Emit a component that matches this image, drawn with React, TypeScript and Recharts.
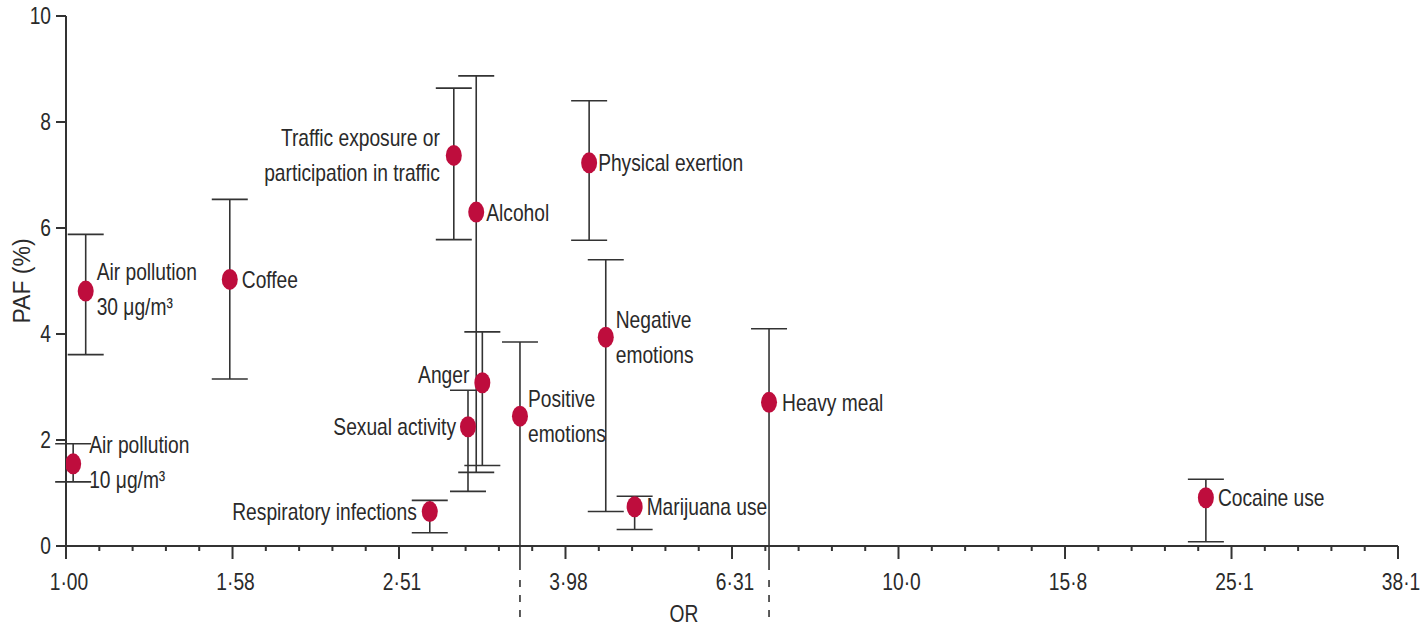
import React from "react";
import {
  ScatterChart,
  Scatter,
  XAxis,
  YAxis,
  ErrorBar,
  ReferenceLine,
  Label,
} from "recharts";

// ---- data ----
const factors = [
  "Air pollution 10 μg/m³",
  "Air pollution 30 μg/m³",
  "Coffee",
  "Respiratory infections",
  "Traffic exposure or participation in traffic",
  "Sexual activity",
  "Alcohol",
  "Anger",
  "Positive emotions",
  "Physical exertion",
  "Negative emotions",
  "Marijuana use",
  "Heavy meal",
  "Cocaine use",
];
const labelLines = [
  ["Air pollution", "10 μg/m³"],
  ["Air pollution", "30 μg/m³"],
  ["Coffee"],
  ["Respiratory infections"],
  ["Traffic exposure or", "participation in traffic"],
  ["Sexual activity"],
  ["Alcohol"],
  ["Anger"],
  ["Positive", "emotions"],
  ["Physical exertion"],
  ["Negative", "emotions"],
  ["Marijuana use"],
  ["Heavy meal"],
  ["Cocaine use"],
];
const orValues = [1.02, 1.056, 1.573, 2.735, 2.923, 3.04, 3.11, 3.163, 3.51, 4.25, 4.45, 4.82, 6.99, 23.4];
const pafValues = [1.55, 4.81, 5.03, 0.65, 7.37, 2.25, 6.3, 3.08, 2.45, 7.23, 3.94, 0.74, 2.71, 0.91];
const ciLow = [1.21, 3.61, 3.15, 0.25, 5.78, 1.03, 1.39, 1.52, -1.4, 5.77, 0.65, 0.31, -1.4, 0.08];
const ciHigh = [1.93, 5.88, 6.54, 0.86, 8.64, 2.94, 8.87, 4.04, 3.85, 8.4, 5.4, 0.94, 4.1, 1.26];

const xMajorTicks = [1, 1.585, 2.512, 3.981, 6.31, 10, 15.85, 25.12, 39.81];
const xMajorLabels = ["1·00", "1·58", "2·51", "3·98", "6·31", "10·0", "15·8", "25·1", "38·1"];
const yTicks = [0, 2, 4, 6, 8, 10];

// ---- style config ----
const labelSide = ["right", "right", "right", "left", "left", "left", "right", "left", "right", "right", "right", "right", "right", "right"];
const labelDx = [16, 11, 12, 13, 14, 12, 10, 13, 8, 9, 10, 12, 13, 12];
const labelDy = [-2, -2, 0, 0, 0, 0, 0, -8, 0, 0, 0, 0, 0, 0];

const FONT = "'Liberation Sans', Arial, sans-serif";
const FS = 24;
const SQUEEZE = 0.8;
const TEXT = "#2a2a2a";
const AXIS = "#333333";
const DOT = "#BE0D3D";

// minor ticks: 4 between each pair of major ticks on the log axis
const allXTicks: number[] = [];
for (let i = 0; i < xMajorTicks.length; i++) {
  allXTicks.push(xMajorTicks[i]);
  if (i < xMajorTicks.length - 1) {
    const a = Math.log10(xMajorTicks[i]);
    const b = Math.log10(xMajorTicks[i + 1]);
    for (let k = 1; k < 5; k++) allXTicks.push(Math.pow(10, a + ((b - a) * k) / 5));
  }
}

const data = factors.map((name, i) => ({
  name,
  or: orValues[i],
  paf: pafValues[i],
  err: [pafValues[i] - Math.max(ciLow[i], 0), ciHigh[i] - pafValues[i]],
  lines: labelLines[i],
  side: labelSide[i],
  dx: labelDx[i],
  dy: labelDy[i],
}));

const extended = orValues
  .map((or, i) => ({ or, low: ciLow[i] }))
  .filter((e) => e.low < 0);

const NarrowText = ({ x, y, anchor, children, size = FS }: any) => (
  <text
    transform={`translate(${x},${y}) scale(${SQUEEZE},1)`}
    x={0}
    y={0}
    dy="0.35em"
    textAnchor={anchor}
    fontFamily={FONT}
    fontSize={size}
    fill={TEXT}
  >
    {children}
  </text>
);

const XTick = (props: any) => {
  const { x, y, payload } = props;
  const idx = xMajorTicks.findIndex((t) => Math.abs(t - payload.value) < 1e-6);
  const major = idx >= 0;
  return (
    <g>
      <line x1={x} y1={y} x2={x} y2={y + (major ? 13 : 5)} stroke={AXIS} strokeWidth={2} />
      {major && (
        <NarrowText x={x + 3} y={y + 36} anchor="middle">
          {xMajorLabels[idx]}
        </NarrowText>
      )}
    </g>
  );
};

const YTick = (props: any) => {
  const { x, y, payload } = props;
  return (
    <NarrowText x={x} y={y} anchor="end">
      {String(payload.value)}
    </NarrowText>
  );
};

const PointShape = (props: any) => {
  const { cx, cy, payload } = props;
  const lines: string[] = payload.lines;
  const right = payload.side === "right";
  const tx = right ? cx + payload.dx : cx - payload.dx;
  const spacing = 35;
  const startY = cy + payload.dy - ((lines.length - 1) * spacing) / 2;
  return (
    <g>
      <ellipse cx={cx} cy={cy} rx={8} ry={10.5} fill={DOT} />
      {lines.map((l, i) => (
        <NarrowText key={i} x={tx} y={startY + i * spacing} anchor={right ? "start" : "end"}>
          {l}
        </NarrowText>
      ))}
    </g>
  );
};

export default function App() {
  return (
    <div style={{ position: "absolute", left: 0, top: 0, background: "#fff" }}>
      <ScatterChart width={1425} height={629} margin={{ top: 16, right: 27, bottom: 0, left: 0 }}>
        <XAxis
          type="number"
          dataKey="or"
          scale="log"
          domain={[1, 39.81]}
          ticks={allXTicks}
          interval={0}
          tick={<XTick />}
          tickLine={false}
          tickSize={0}
          tickMargin={0}
          axisLine={{ stroke: AXIS, strokeWidth: 2 }}
          height={83}
          allowDataOverflow
        >
          <Label
            content={(p: any) => {
              const vb = p.viewBox || {};
              const cx = (vb.x || 0) + (vb.width || 0) / 2 - 48;
              const cy = (vb.y || 0) + (vb.height || 0) - 15;
              return (
                <NarrowText x={cx} y={cy} anchor="middle">
                  OR
                </NarrowText>
              );
            }}
          />
        </XAxis>
        <YAxis
          type="number"
          dataKey="paf"
          domain={[0, 10]}
          ticks={yTicks}
          interval={0}
          width={66}
          tickSize={10}
          tickMargin={5}
          tickLine={{ stroke: AXIS, strokeWidth: 2 }}
          axisLine={{ stroke: AXIS, strokeWidth: 2 }}
          tick={<YTick />}
        >
          <Label
            content={(p: any) => {
              const vb = p.viewBox || {};
              const cx = 22;
              const cy = (vb.y || 0) + (vb.height || 0) / 2;
              return (
                <text
                  x={cx}
                  y={cy}
                  transform={`rotate(-90 ${cx} ${cy})`}
                  textAnchor="middle"
                  dominantBaseline="central"
                  fontFamily={FONT}
                  fontSize={23}
                  fill={TEXT}
                >
                  PAF (%)
                </text>
              );
            }}
          />
        </YAxis>
        {extended.map((e, i) => (
          <ReferenceLine
            key={i}
            segment={[
              { x: e.or, y: 0 },
              { x: e.or, y: e.low },
            ]}
            stroke={AXIS}
            strokeWidth={1.6}
            strokeDasharray="24 10 7 8 7 8 7 8"
            ifOverflow="visible"
          />
        ))}
        <Scatter data={data} isAnimationActive={false} shape={<PointShape />}>
          <ErrorBar dataKey="err" direction="y" width={18} stroke={AXIS} strokeWidth={1.6} isAnimationActive={false} />
        </Scatter>
      </ScatterChart>
    </div>
  );
}
